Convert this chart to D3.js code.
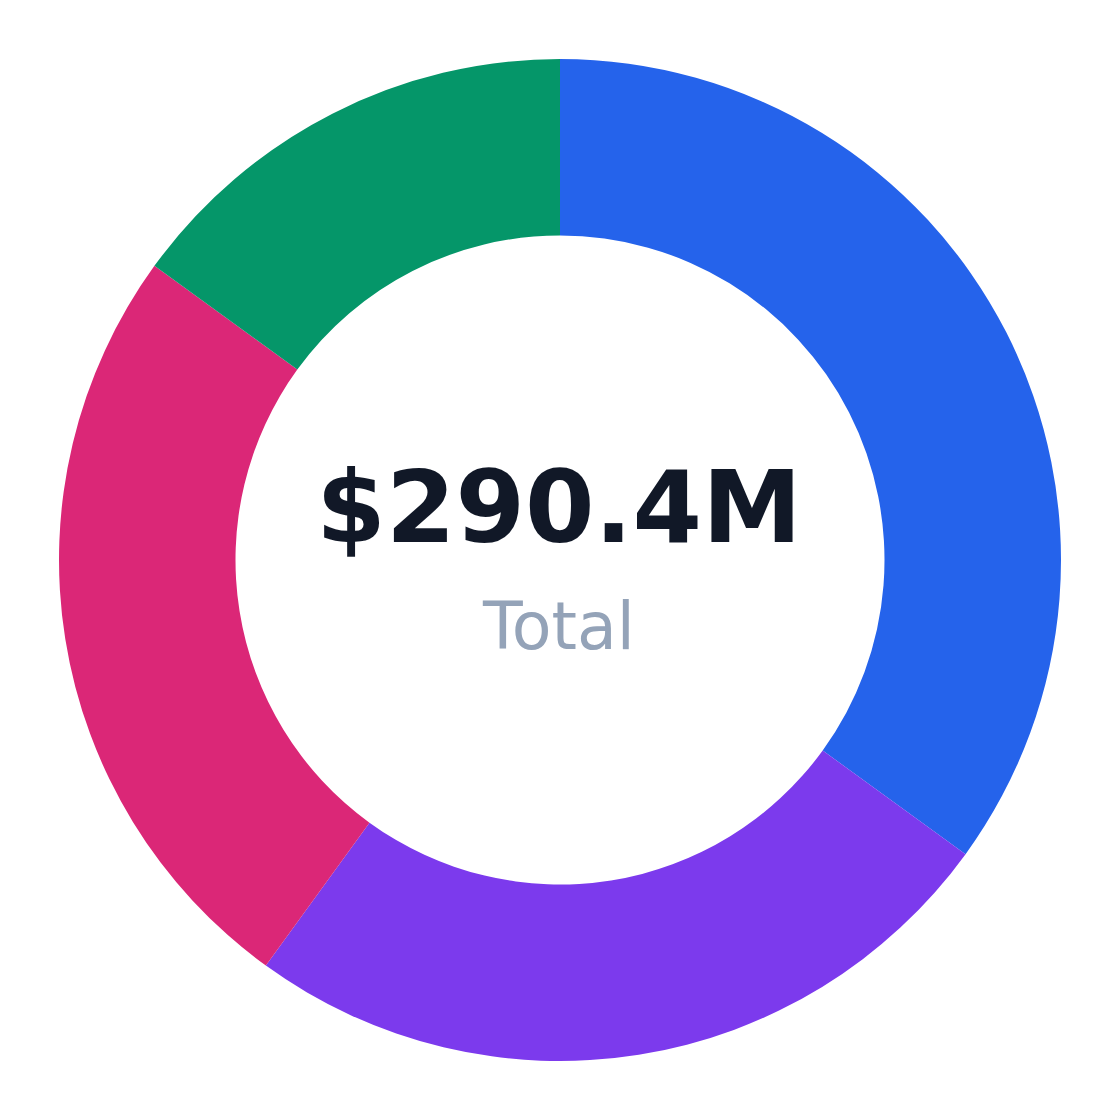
<!DOCTYPE html>
<html>
<head>
<meta charset="utf-8">
<script src="https://cdn.jsdelivr.net/npm/d3@7"></script>
<style>
  html, body { margin: 0; padding: 0; background: #ffffff; }
  svg { display: block; }
</style>
</head>
<body>
<svg id="donut" width="1120" height="1120"></svg>
<script>
// Chart data (values in $M)
const categories = ["Segment A", "Segment B", "Segment C", "Segment D"];
const values = [101.6, 72.6, 72.6, 43.6];
const colors = ["#2563eb", "#7c3aed", "#db2777", "#059669"];
const totalLabel = "$290.4M";
const subLabel = "Total";

const width = 1120, height = 1120;
const outerR = 501, innerR = 324.5;

const svg = d3.select("#donut");
const g = svg.append("g").attr("transform", `translate(${width / 2}, ${height / 2})`);

const data = categories.map((c, i) => ({ name: c, value: values[i] }));

const pie = d3.pie().sort(null).value(d => d.value);
const arc = d3.arc().innerRadius(innerR).outerRadius(outerR);

const color = d3.scaleOrdinal().domain(categories).range(colors);

g.selectAll("path")
    .data(pie(data))
    .enter()
    .append("path")
    .attr("d", arc)
    .attr("fill", d => color(d.data.name));

// Center labels
g.append("text")
    .attr("x", -1)
    .attr("y", -18)
    .attr("text-anchor", "middle")
    .style("font-family", "'DejaVu Sans', sans-serif")
    .style("font-weight", "bold")
    .style("font-size", "100px")
    .style("fill", "#111827")
    .text(totalLabel);

g.append("text")
    .attr("x", -1)
    .attr("y", 89)
    .attr("text-anchor", "middle")
    .style("font-family", "'DejaVu Sans', sans-serif")
    .style("font-size", "65px")
    .style("fill", "#94a3b8")
    .text(subLabel);
</script>
</body>
</html>
